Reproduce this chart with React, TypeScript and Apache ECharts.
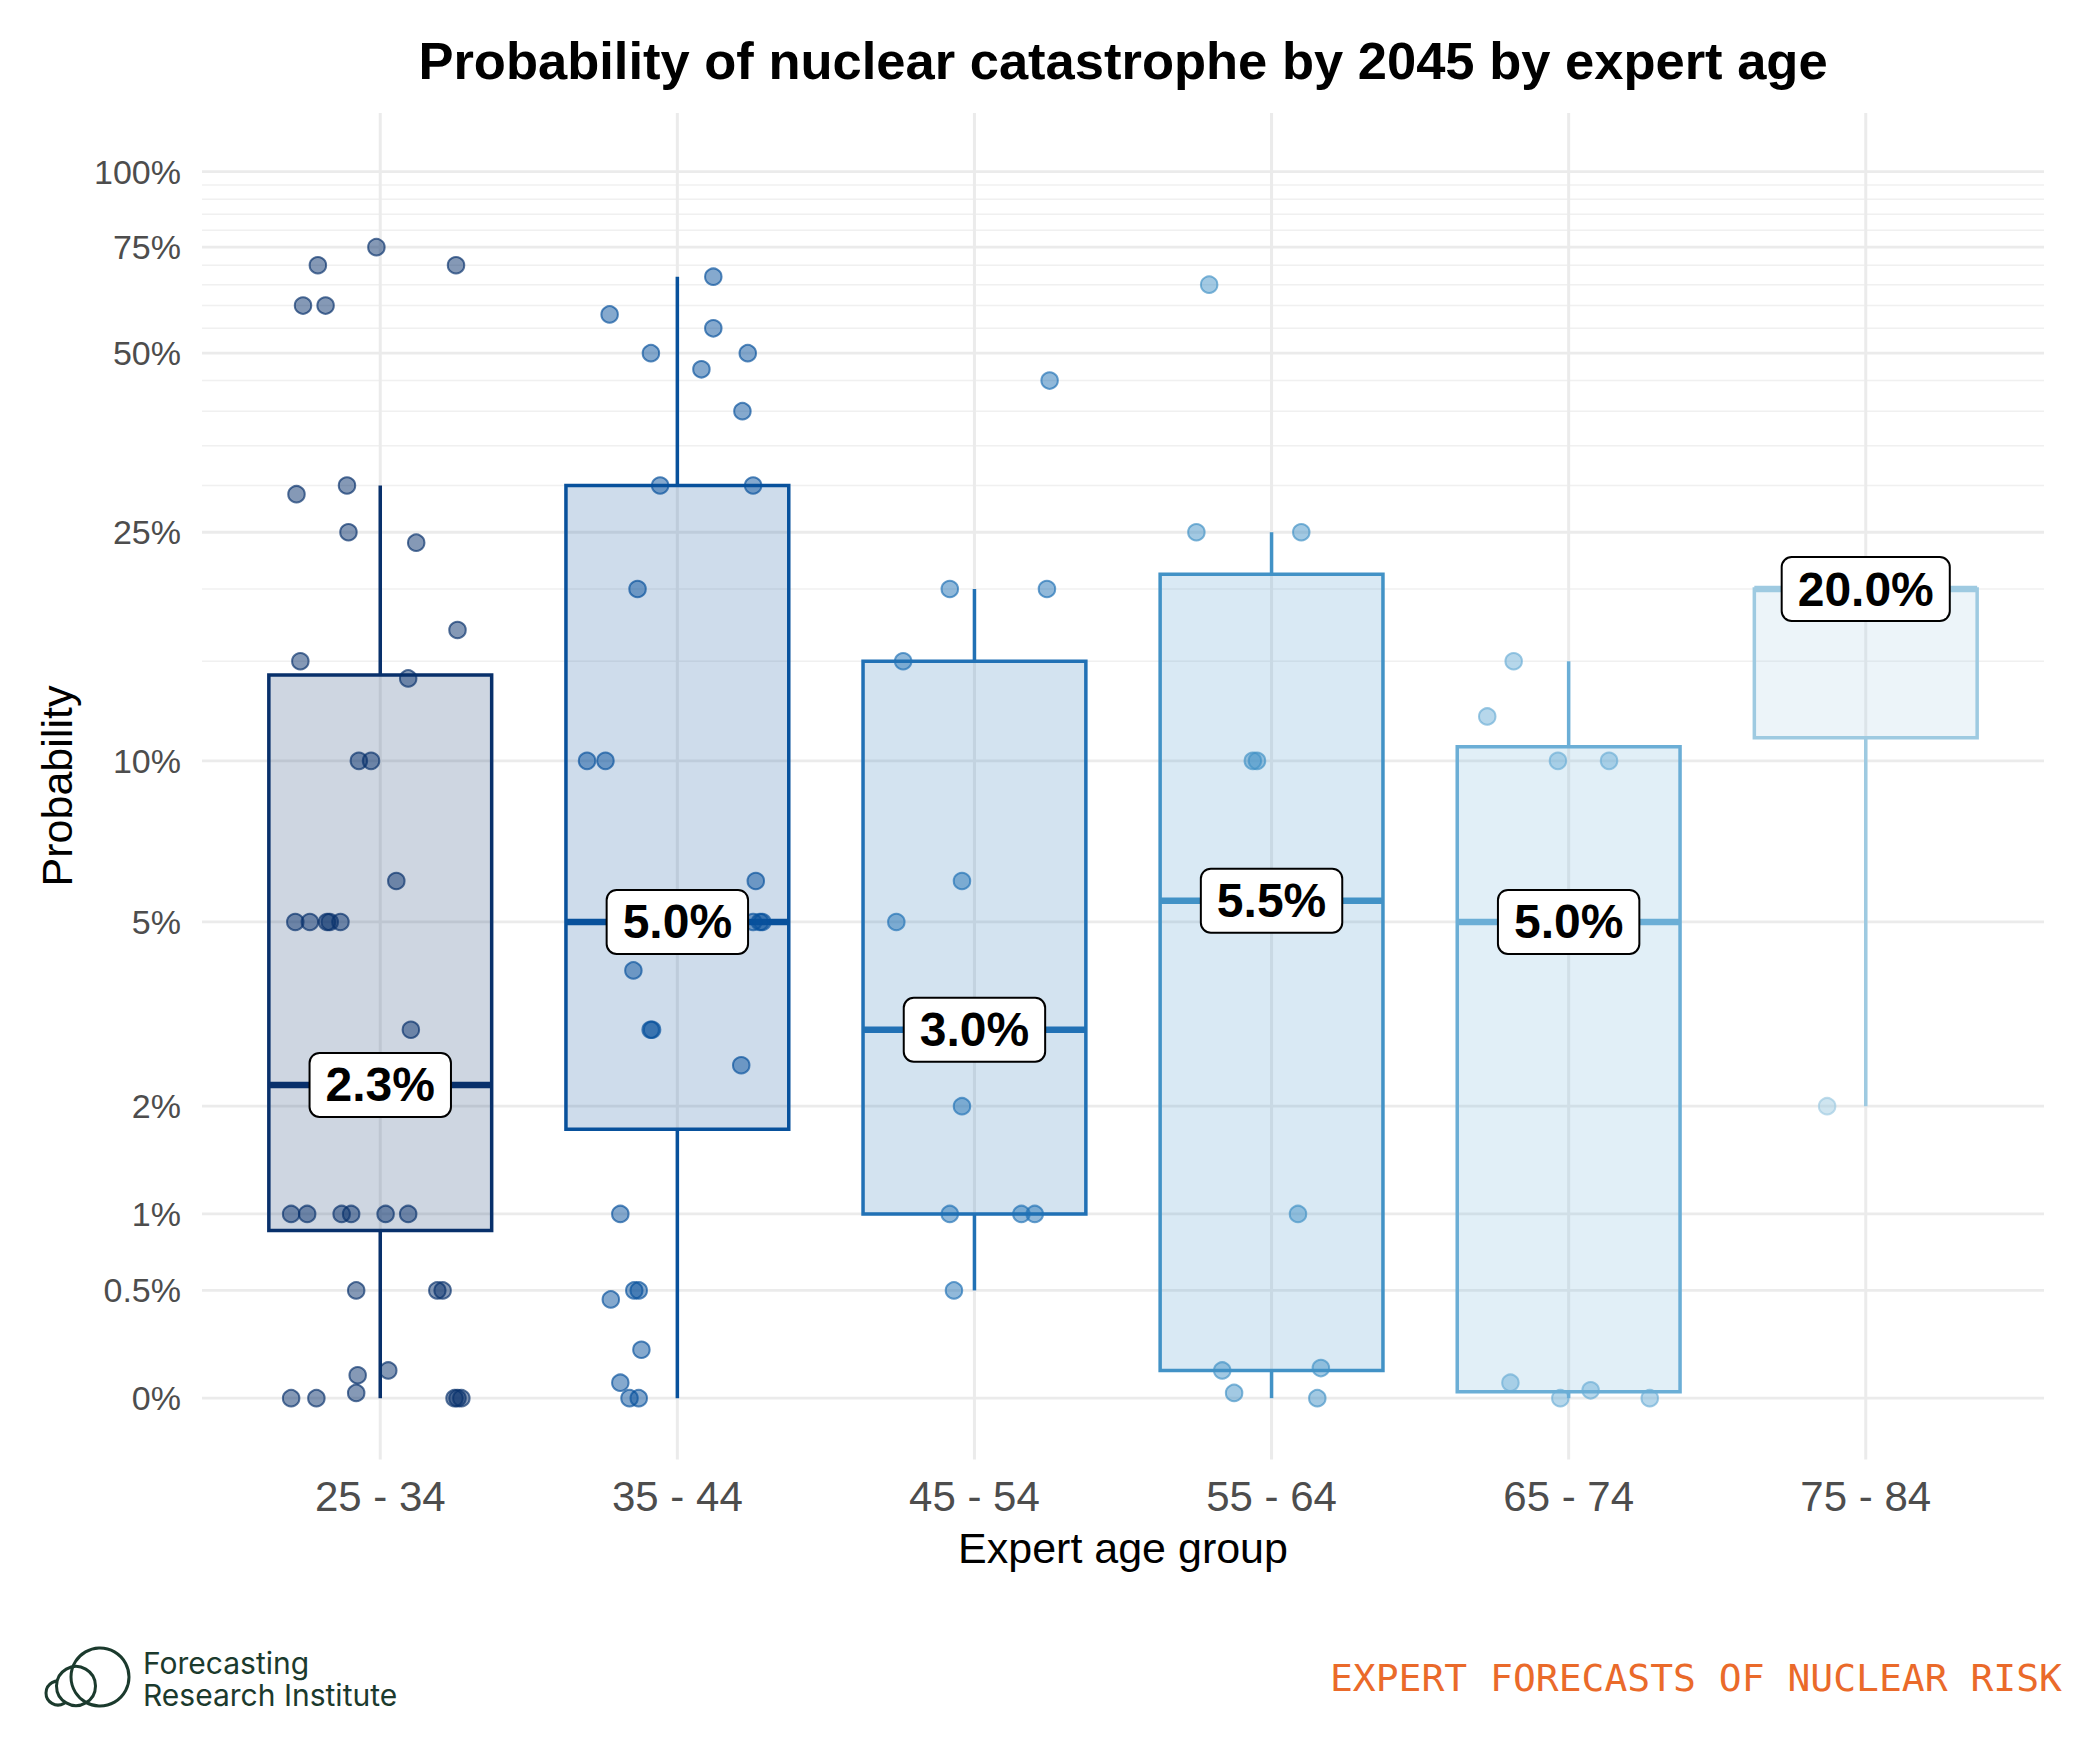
import React, { useEffect, useRef } from 'react';
import * as echarts from 'echarts';

const categories = ['25 - 34', '35 - 44', '45 - 54', '55 - 64', '65 - 74', '75 - 84'];
const groupColors = ['#08306b', '#08519c', '#2171b5', '#4292c6', '#6baed6', '#9ecae1'];

// box statistics (percent)
const boxLow = [0, 0, 0.5, 0, 0, 2];
const boxQ1 = [0.88, 1.75, 1, 0.11, 0.025, 11];
const boxMedian = [2.25, 5, 3, 5.5, 5, 20];
const boxQ3 = [14.2, 30, 15, 21.2, 10.6, 20];
const boxHigh = [30, 67, 20, 25, 15, 20];
const medianLabels = ['2.3%', '5.0%', '3.0%', '5.5%', '5.0%', '20.0%'];

// individual forecasts (percent) and their horizontal jitter (category units)
const g1Values = [75, 70, 70, 60, 60, 30, 29, 25, 24, 17, 15, 14, 10, 10, 6, 5, 5, 5, 5, 5, 3, 1, 1, 1, 1, 1, 1, 0.5, 0.5, 0.5, 0.09, 0.11, 0.02, 0, 0, 0, 0, 0];
const g1Jitter = [-0.013, -0.21, 0.255, -0.26, -0.184, -0.112, -0.282, -0.107, 0.121, 0.26, -0.269, 0.094, -0.072, -0.031, 0.054, -0.286, -0.237, -0.179, -0.17, -0.134, 0.103, -0.3, -0.246, -0.13, -0.098, 0.018, 0.094, -0.081, 0.192, 0.21, -0.076, 0.027, -0.081, -0.3, -0.215, 0.25, 0.26, 0.273];
const g2Values = [67, 58, 55, 50, 50, 47, 40, 30, 30, 20, 10, 10, 6, 5, 5, 5, 4, 3, 3, 2.5, 1, 0.45, 0.5, 0.5, 0.2, 0.06, 0, 0];
const g2Jitter = [0.121, -0.228, 0.121, -0.089, 0.237, 0.081, 0.219, -0.058, 0.255, -0.134, -0.304, -0.242, 0.264, 0.255, 0.278, 0.286, -0.148, -0.09, -0.085, 0.215, -0.192, -0.224, -0.145, -0.13, -0.121, -0.192, -0.161, -0.13];
const g3Values = [45, 20, 20, 15, 6, 5, 2, 1, 1, 1, 0.5];
const g3Jitter = [0.253, -0.083, 0.244, -0.24, -0.042, -0.263, -0.042, -0.083, 0.158, 0.203, -0.069];
const g4Values = [65, 25, 25, 10, 10, 1, 0.11, 0.12, 0.02, 0];
const g4Jitter = [-0.21, -0.253, 0.1, -0.063, -0.049, 0.089, -0.166, 0.166, -0.126, 0.154];
const g5Values = [15, 12, 10, 10, 0.06, 0, 0.03, 0];
const g5Jitter = [-0.185, -0.274, -0.036, 0.136, -0.196, -0.028, 0.074, 0.273];
const g6Values = [2];
const g6Jitter = [-0.13];

const groupValues = [g1Values, g2Values, g3Values, g4Values, g5Values, g6Values];
const groupJitter = [g1Jitter, g2Jitter, g3Jitter, g4Jitter, g5Jitter, g6Jitter];

// y axis ticks (percent)
const majorTicks = [0, 0.5, 1, 2, 5, 10, 25, 50, 75, 100];
const majorTickLabels = ['0%', '0.5%', '1%', '2%', '5%', '10%', '25%', '50%', '75%', '100%'];
const minorTicks = [15, 20, 30, 35, 40, 45, 55, 60, 65, 70, 80, 85, 90, 95];

const tr = (p: number) => Math.log10(p + 1);

function rgba(hex: string, a: number) {
  const n = parseInt(hex.slice(1), 16);
  return `rgba(${(n >> 16) & 255},${(n >> 8) & 255},${n & 255},${a})`;
}

const FONT = 'Liberation Sans, Arial, Helvetica, sans-serif';

export default function App() {
  const ref = useRef<HTMLDivElement>(null);
  useEffect(() => {
    if (!ref.current) return;
    const chart = echarts.init(ref.current, null, { renderer: 'svg' });

    const gridLineData: number[][] = [];
    minorTicks.forEach((v) => gridLineData.push([0, tr(v), 0]));
    majorTicks.forEach((v) => gridLineData.push([0, tr(v), 1]));
    categories.forEach((_, i) => gridLineData.push([i, 0, 2]));

    const boxData = categories.map((_, i) => [i, tr(boxLow[i]), tr(boxQ1[i]), tr(boxMedian[i]), tr(boxQ3[i]), tr(boxHigh[i])]);

    const scatterSeries = groupValues.map((vals, i) => ({
      type: 'scatter',
      z: 4,
      symbol: 'circle',
      symbolSize: 16.5,
      itemStyle: { color: rgba(groupColors[i], 0.62), borderColor: rgba(groupColors[i], 0.85), borderWidth: 2 },
      data: vals.map((v, k) => [i + groupJitter[i][k], tr(v)]),
      silent: true,
    }));

    const option: any = {
      animation: false,
      backgroundColor: '#ffffff',
      grid: { left: 202, right: 41, top: 113, bottom: 283.6, containLabel: false },
      xAxis: {
        type: 'value',
        min: -0.6,
        max: 5.6,
        splitLine: { show: false },
        axisLine: { show: false },
        axisTick: { show: false },
        axisLabel: {
          customValues: [0, 1, 2, 3, 4, 5],
          formatter: (v: number) => categories[Math.round(v)] ?? '',
          fontSize: 42,
          color: '#4d4d4d',
          fontFamily: FONT,
          margin: 16,
        },
      },
      yAxis: {
        type: 'value',
        min: -0.1,
        max: 2.1,
        splitLine: { show: false },
        axisLine: { show: false },
        axisTick: { show: false },
        axisLabel: {
          customValues: majorTicks.map(tr),
          formatter: (v: number) => {
            const idx = majorTicks.findIndex((t) => Math.abs(tr(t) - v) < 1e-6);
            return idx >= 0 ? majorTickLabels[idx] : '';
          },
          fontSize: 34,
          color: '#4d4d4d',
          fontFamily: FONT,
          margin: 21,
        },
      },
      series: [
        {
          type: 'custom',
          z: 1,
          silent: true,
          data: gridLineData,
          encode: { x: 0, y: 1 },
          renderItem: (params: any, api: any) => {
            const cs = params.coordSys;
            const kind = api.value(2);
            if (kind === 2) {
              const x = api.coord([api.value(0), 0])[0];
              return { type: 'line', shape: { x1: x, y1: cs.y, x2: x, y2: cs.y + cs.height }, style: { stroke: '#ebebeb', lineWidth: 3 } };
            }
            const y = api.coord([0, api.value(1)])[1];
            return {
              type: 'line',
              shape: { x1: cs.x, y1: y, x2: cs.x + cs.width, y2: y },
              style: { stroke: kind === 1 ? '#ebebeb' : '#f0f0f0', lineWidth: kind === 1 ? 2.8 : 1.5 },
            };
          },
        },
        {
          type: 'custom',
          z: 2,
          silent: true,
          data: boxData,
          encode: { x: 0, y: [1, 2, 3, 4, 5] },
          renderItem: (params: any, api: any) => {
            const i = api.value(0);
            const c = groupColors[i];
            const cx = api.coord([i, api.value(3)])[0];
            const yLow = api.coord([i, api.value(1)])[1];
            const yQ1 = api.coord([i, api.value(2)])[1];
            const yMed = api.coord([i, api.value(3)])[1];
            const yQ3 = api.coord([i, api.value(4)])[1];
            const yHigh = api.coord([i, api.value(5)])[1];
            const half = api.size([0.75, 0])[0] / 2;
            const children: any[] = [];
            if (yLow - yQ1 > 0.5) children.push({ type: 'line', shape: { x1: cx, y1: yQ1, x2: cx, y2: yLow }, style: { stroke: c, lineWidth: 3.5 } });
            if (yQ3 - yHigh > 0.5) children.push({ type: 'line', shape: { x1: cx, y1: yHigh, x2: cx, y2: yQ3 }, style: { stroke: c, lineWidth: 3.5 } });
            children.push({
              type: 'rect',
              shape: { x: cx - half, y: yQ3, width: half * 2, height: yQ1 - yQ3 },
              style: { fill: rgba(c, 0.2), stroke: c, lineWidth: 3.5 },
            });
            children.push({ type: 'line', shape: { x1: cx - half, y1: yMed, x2: cx + half, y2: yMed }, style: { stroke: c, lineWidth: 6.5 } });
            return { type: 'group', children };
          },
        },
        ...scatterSeries,
        {
          type: 'custom',
          z: 10,
          silent: true,
          data: boxMedian.map((m, i) => [i, tr(m)]),
          encode: { x: 0, y: 1 },
          renderItem: (params: any, api: any) => {
            const i = api.value(0);
            const pt = api.coord([i, api.value(1)]);
            return {
              type: 'text',
              x: pt[0],
              y: pt[1],
              style: {
                text: medianLabels[i],
                fill: '#000000',
                font: `bold 48px ${FONT}`,
                align: 'center',
                verticalAlign: 'middle',
                lineHeight: 52,
                backgroundColor: '#ffffff',
                borderColor: '#000000',
                borderWidth: 2,
                borderRadius: 9,
                padding: [5, 15, 5, 15],
              },
            };
          },
        },
      ],
      graphic: [
        {
          type: 'text', x: 1123, y: 60,
          style: { text: 'Probability of nuclear catastrophe by 2045 by expert age', font: `bold 52.5px ${FONT}`, fill: '#000', textAlign: 'center', textVerticalAlign: 'middle', align: 'center', verticalAlign: 'middle' },
        },
        {
          type: 'text', x: 1123, y: 1548,
          style: { text: 'Expert age group', font: `43px ${FONT}`, fill: '#000', textAlign: 'center', textVerticalAlign: 'middle', align: 'center', verticalAlign: 'middle' },
        },
        {
          type: 'text', x: 57, y: 786, rotation: Math.PI / 2,
          style: { text: 'Probability', font: `43px ${FONT}`, fill: '#000', textAlign: 'center', textVerticalAlign: 'middle', align: 'center', verticalAlign: 'middle' },
        },
        { type: 'circle', shape: { cx: 58, cy: 1693, r: 12 }, style: { fill: '#fff', stroke: '#1b3a2d', lineWidth: 3 } },
        { type: 'circle', shape: { cx: 76, cy: 1686, r: 19.5 }, style: { fill: '#fff', stroke: '#1b3a2d', lineWidth: 3 } },
        { type: 'circle', shape: { cx: 100, cy: 1677, r: 29 }, style: { fill: 'none', stroke: '#1b3a2d', lineWidth: 3 } },
        {
          type: 'text', x: 143, y: 1663,
          style: { text: 'Forecasting', font: `30px Inter, ${FONT}`, fill: '#1b3a2d', textAlign: 'left', textVerticalAlign: 'middle', align: 'left', verticalAlign: 'middle' },
        },
        {
          type: 'text', x: 143, y: 1695,
          style: { text: 'Research Institute', font: `30px Inter, ${FONT}`, fill: '#1b3a2d', textAlign: 'left', textVerticalAlign: 'middle', align: 'left', verticalAlign: 'middle' },
        },
        {
          type: 'text', x: 2062, y: 1678,
          style: { text: 'EXPERT FORECASTS OF NUCLEAR RISK', font: `38px DejaVu Sans Mono, Liberation Mono, monospace`, fill: '#ea6a2a', textAlign: 'right', textVerticalAlign: 'middle', align: 'right', verticalAlign: 'middle' },
        },
      ],
    };
    chart.setOption(option);
    return () => chart.dispose();
  }, []);
  return <div ref={ref} style={{ position: 'fixed', left: 0, top: 0, width: 2085, height: 1743, background: '#fff' }} />;
}
